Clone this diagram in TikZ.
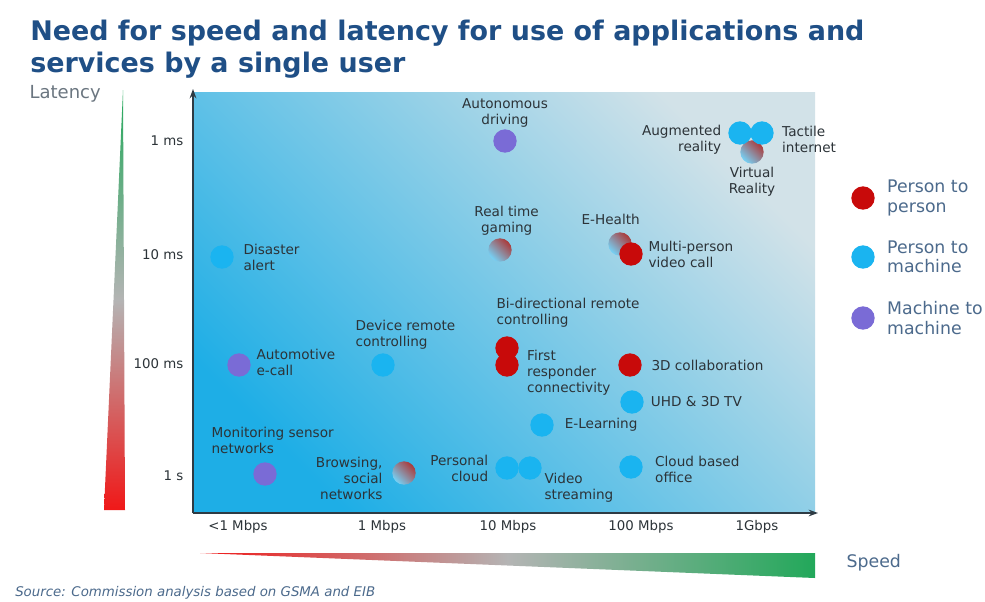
\documentclass[tikz,border=0pt]{standalone}
\usepackage{fontspec}
\setmainfont{DejaVu Sans}
\usetikzlibrary{arrows.meta,positioning}
\definecolor{cTitle}{HTML}{1F4F86}
\definecolor{cPtoP}{HTML}{C80A0A}
\definecolor{cPtoM}{HTML}{1AB4F0}
\definecolor{cMtoM}{HTML}{7A6BD6}
\definecolor{cAxis}{HTML}{2E3B44}
\definecolor{cText}{HTML}{2C3338}
\definecolor{cGrey}{HTML}{6B7680}
\definecolor{cLegend}{HTML}{4C6A8C}
\definecolor{cBgLow}{HTML}{1EAEE6}
\definecolor{cBgHigh}{HTML}{D2E2E8}
\definecolor{cFast}{HTML}{22A85A}
\definecolor{cSlow}{HTML}{F01818}
\definecolor{cMid}{HTML}{B4B4B4}

\begin{document}
\begin{tikzpicture}[
    x=0.75pt, y=-0.75pt,
    dot/.style={circle, minimum size=17.5pt, inner sep=0pt},
    ptop/.style={dot, fill=cPtoP},
    ptom/.style={dot, fill=cPtoM},
    mtom/.style={dot, fill=cMtoM},
    mixed/.style={dot, top color=cPtoP!60!gray, bottom color=cPtoM!60!white, shading angle=-45},
    lbl/.style={font=\fontsize{10.2}{12}\selectfont, text=cText, align=left, inner sep=1pt},
    tick/.style={font=\fontsize{10}{11}\selectfont, text=cText},
    leg/.style={font=\fontsize{13}{14.5}\selectfont, text=cLegend, align=left, inner sep=1pt},
    title/.style={font=\fontsize{20.2}{24}\selectfont\bfseries, text=cTitle, anchor=base west, inner sep=0pt},
    axisarr/.style={-{Stealth[length=7pt,width=5pt]}, line width=1.6pt, draw=cAxis}
]
\useasboundingbox[fill=white] (0,0) rectangle (985,601);

% title
\node[title] (title1) at (30,40) {Need for speed and latency for use of applications and};
\node[title] (title2) at (30,72) {services by a single user};

% plot area
\shade[top color=cBgHigh, bottom color=cBgLow, shading angle=-45] (193,92) rectangle (815,513);
\coordinate (origin) at (193,513);
\coordinate (ytop) at (193,89);
\coordinate (xend) at (818,513);
\draw[axisarr] (origin) -- (ytop);
\draw[axisarr] (origin) -- (xend);

% axis scales
\foreach \y/\txt in {141/1 ms, 255/10 ms, 364/100 ms, 476/1 s}
  \node[tick, anchor=east] (yt\y) at (188,\y) {\txt};
\foreach \x/\txt in {238/<1 Mbps, 382/1 Mbps, 508/10 Mbps, 641/100 Mbps, 757/1Gbps}
  \node[tick] (xt\x) at (\x,527) {\txt};

% latency and speed wedges
\shade[top color=cFast, bottom color=cSlow, middle color=cMid] (123,90) -- (125,510) -- (104,510) -- cycle;
\shade[left color=cSlow, right color=cFast, middle color=cMid] (200,553) -- (815,553) -- (815,578) -- cycle;
\node[leg, text=cGrey, font=\fontsize{13.5}{15}\selectfont, anchor=west] (latency) at (28,94) {Latency};
\node[leg, anchor=west] (speed) at (845,563) {Speed};

% applications
\node[mtom] (ad) at (505,141) {};
\node[mixed] (vr) at (752,152) {};
\node[ptom] (ar) at (740,133) {};
\node[ptom] (ti) at (762,133) {};
\node[mixed] (rtg) at (500,250) {};
\node[mixed] (eh) at (620,244) {};
\node[ptop] (mpv) at (631,254) {};
\node[ptom] (da) at (222,257) {};
\node[ptop] (bdr) at (507,348) {};
\node[ptop] (frc) at (507,365) {};
\node[ptom] (drc) at (383,365) {};
\node[mtom] (aec) at (239,365) {};
\node[ptop] (tdc) at (630,365) {};
\node[ptom] (uhd) at (632,402) {};
\node[ptom] (el) at (542,425) {};
\node[mtom] (msn) at (265,474) {};
\node[mixed] (bsn) at (404,473) {};
\node[ptom] (pc) at (507,468) {};
\node[ptom] (vs) at (530,468) {};
\node[ptom] (cbo) at (631,467) {};

\node[lbl, align=center, above=0pt of ad] {Autonomous\\driving};
\node[lbl, align=right, left=4pt of ar, yshift=-5pt] {Augmented\\reality};
\node[lbl, right=5pt of ti, yshift=-5pt] {Tactile\\internet};
\node[lbl, align=center, below=1pt of vr] {Virtual\\Reality};
\node[lbl, align=center, above=1pt of rtg, xshift=5pt] {Real time\\gaming};
\node[lbl, above=4pt of eh, xshift=-7pt] {E-Health};
\node[lbl, right=3pt of mpv] {Multi-person\\video call};
\node[lbl, right=6pt of da] {Disaster\\alert};
\node[lbl, anchor=west] at (495,313) {Bi-directional remote\\controlling};
\node[lbl, right=5pt of frc, yshift=-6pt] {First\\responder\\connectivity};
\node[lbl, anchor=west] at (354,335) {Device remote\\controlling};
\node[lbl, right=3pt of aec, yshift=2pt] {Automotive\\e-call};
\node[lbl, right=6pt of tdc] {3D collaboration};
\node[lbl, right=4pt of uhd] {UHD \& 3D TV};
\node[lbl, right=7pt of el] {E-Learning};
\node[lbl, anchor=west] at (210,440) {Monitoring sensor\\networks};
\node[lbl, align=right, left=6pt of bsn, yshift=-4pt] {Browsing,\\social\\networks};
\node[lbl, align=right, left=4pt of pc] {Personal\\cloud};
\node[lbl, anchor=west] at (543,488) {Video\\streaming};
\node[lbl, right=8pt of cbo, yshift=-2pt] {Cloud based\\office};

% legend
\node[ptop] (lgptop) at (863,198) {};
\node[ptom] (lgptom) at (863,257) {};
\node[mtom] (lgmtom) at (863,318) {};
\node[leg, right=8pt of lgptop] {Person to\\person};
\node[leg, right=8pt of lgptom] {Person to\\machine};
\node[leg, right=8pt of lgmtom] {Machine to\\machine};

% source
\node[font=\fontsize{10}{12}\selectfont\itshape, text=cLegend, anchor=west, inner sep=0pt] (source) at (15,593) {Source: Commission analysis based on GSMA and EIB};
\end{tikzpicture}
\end{document}
